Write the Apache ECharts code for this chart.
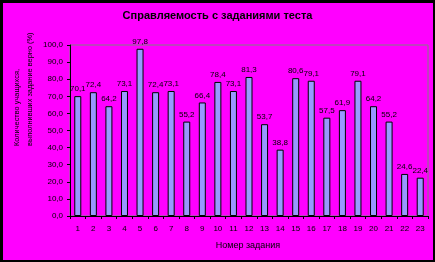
<!DOCTYPE html>
<html><head><meta charset="utf-8">
<script src="https://cdn.jsdelivr.net/npm/echarts@6/dist/echarts.min.js"></script>
<style>html,body{margin:0;padding:0;background:#000;}#c{width:435px;height:262px;}</style>
</head><body><div id="c"></div>
<script>
const categories = ['1','2','3','4','5','6','7','8','9','10','11','12','13','14','15','16','17','18','19','20','21','22','23'];
const values = [70.1,72.4,64.2,73.1,97.8,72.4,73.1,55.2,66.4,78.4,73.1,81.3,53.7,38.8,80.6,79.1,57.5,61.9,79.1,64.2,55.2,24.6,22.4];
const titleText = 'Справляемость с заданиями теста';
const xTitle = 'Номер задания';
const yTitleLines = ['Количество учащихся,', 'выполнивших задание верно (%)'];

const fmt = v => v.toFixed(1).replace('.', ',');
const chart = echarts.init(document.getElementById('c'), null, {renderer:'canvas'});
const F = 'Liberation Sans, Arial, sans-serif';
chart.setOption({
  animation:false,
  backgroundColor:'#000000',
  graphic:[
    {type:'rect', shape:{x:3,y:3,width:430,height:257}, style:{fill:'#ff00ff'}, z:-10},
    {type:'text', left:'center', top:10, style:{text:titleText, font:'bold 11px '+F, fill:'#000'}},
    {type:'text', x:248, y:246, style:{text:xTitle, font:'9px '+F, fill:'#000', textAlign:'center', textVerticalAlign:'middle'}},
    {type:'text', x:10, y:146, rotation:Math.PI/2, style:{text:yTitleLines.join('\n'), font:'7.4px '+F, fill:'#000', textAlign:'left', textVerticalAlign:'top', lineHeight:13}}
  ],
  grid:{left:70, right:7, top:45, bottom:46, show:true, borderColor:'#808080', borderWidth:1, backgroundColor:'transparent'},
  xAxis:{type:'category', data:categories, boundaryGap:true,
    axisLine:{lineStyle:{color:'#000', width:1}},
    axisTick:{show:true, length:3, lineStyle:{color:'#000'}},
    axisLabel:{color:'#000', fontSize:8, fontFamily:F, margin:9, interval:0}},
  yAxis:{type:'value', min:0, max:100, interval:10,
    axisLine:{show:true, lineStyle:{color:'#000', width:1}},
    axisTick:{show:true, length:3, lineStyle:{color:'#000'}},
    splitLine:{show:false},
    axisLabel:{color:'#000', fontSize:8, fontFamily:F, margin:7, formatter:v=>fmt(v)}},
  series:[{type:'bar', data:values, barCategoryGap:'55%',
    itemStyle:{color:'#9999ff', borderColor:'#000', borderWidth:1},
    label:{show:true, position:'top', distance:3, color:'#000', fontSize:8, fontFamily:F, formatter:p=>fmt(p.value)}}]
});
</script></body></html>
